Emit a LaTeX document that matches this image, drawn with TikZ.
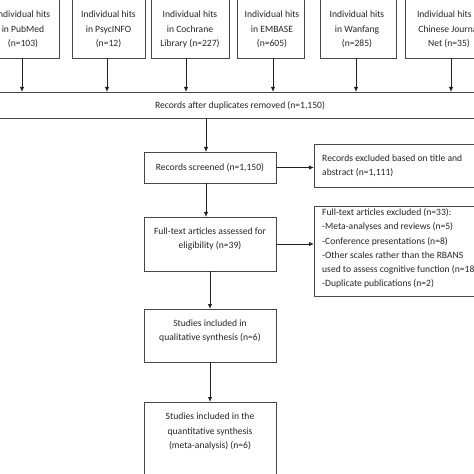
\documentclass[tikz,border=0pt]{standalone}
\usepackage{fontspec}
\setmainfont{Carlito}
\usetikzlibrary{arrows.meta}
\begin{document}
\begin{tikzpicture}[x=1bp,y=-1bp,
  box/.style={draw=black!72,line width=0.9bp,fill=white,inner sep=0pt,outer sep=0pt},
  txt/.style={font=\fontsize{9.6bp}{14.2bp}\selectfont,text=black!85,align=center,inner sep=0pt},
  ltxt/.style={txt,align=left,anchor=west},
  arr/.style={draw=black!88,line width=1bp,-{Latex[length=5bp,width=4.5bp]}}]
\useasboundingbox (0,0) rectangle (474,474);
\clip (0,0) rectangle (474,474);
\fill[white] (0,0) rectangle (474,474);
% top boxes
\node[box,minimum width=72bp,minimum height=60bp] (b1) at (23,28) {};
\node[box,minimum width=73bp,minimum height=60bp] (b2) at (108.5,28) {};
\node[box,minimum width=78bp,minimum height=60bp] (b3) at (190,28) {};
\node[box,minimum width=67bp,minimum height=60bp] (b4) at (270.5,28) {};
\node[box,minimum width=76bp,minimum height=60bp] (b5) at (358,28) {};
\node[box,minimum width=88bp,minimum height=60bp] (b6) at (449,28) {};
\node[txt] (t1) at (23,29.5) {Individual hits\\in PubMed\\(n=103)};
\node[txt] (t2) at (108.5,29.5) {Individual hits\\in PsycINFO\\(n=12)};
\node[txt] (t3) at (190,29.5) {Individual hits\\in Cochrane\\Library (n=227)};
\node[txt] (t4) at (272,29.5) {Individual hits\\in EMBASE\\(n=605)};
\node[txt] (t5) at (357,29.5) {Individual hits\\in Wanfang\\(n=285)};
\node[txt] (t6) at (449,29.5) {Individual hits in\\Chinese Journal\\Net (n=35)};
% records
\node[box,minimum width=500bp,minimum height=26bp] (rec) at (240,105) {};
\node[txt] (trec) at (240,106) {Records after duplicates removed (n=1,150)};
\node[box,minimum width=132bp,minimum height=31bp] (screen) at (210,167.5) {};
\node[txt] (tscreen) at (210,167.5) {Records screened (n=1,150)};
\node[box,minimum width=180bp,minimum height=43bp] (ex1) at (404,165.5) {};
\node[ltxt] (tex1) at (322,166) {Records excluded based on title and\\abstract (n=1,111)};
\node[box,minimum width=132bp,minimum height=54bp] (full) at (210,244) {};
\node[txt] (tfull) at (210,239) {Full-text articles assessed for\\eligibility (n=39)};
\node[box,minimum width=180bp,minimum height=90bp] (ex2) at (404,251) {};
\node[ltxt] (tex2) at (322,248.5) {Full-text articles excluded (n=33):\\-Meta-analyses and reviews (n=5)\\-Conference presentations (n=8)\\-Other scales rather than the RBANS\\used to assess cognitive function (n=18)\\-Duplicate publications (n=2)};
\node[box,minimum width=132bp,minimum height=53bp] (qual) at (210,335.5) {};
\node[txt] (tqual) at (210,331) {Studies included in\\qualitative synthesis (n=6)};
\node[box,minimum width=132bp,minimum height=80bp] (quant) at (210,442) {};
\node[txt] (tquant) at (210,431.5) {Studies included in the\\quantitative synthesis\\(meta-analysis) (n=6)};
% arrows
\draw[arr] ([xshift=-1bp]b1.south) -- ([xshift=-1bp]b1.south |- rec.north);
\draw[arr] ([xshift=-1.5bp]b2.south) -- ([xshift=-1.5bp]b2.south |- rec.north);
\draw[arr] ([xshift=-4bp]b3.south) -- ([xshift=-4bp]b3.south |- rec.north);
\draw[arr] ([xshift=2.5bp]b4.south) -- ([xshift=2.5bp]b4.south |- rec.north);
\draw[arr] ([xshift=-2bp]b5.south) -- ([xshift=-2bp]b5.south |- rec.north);
\draw[arr] ([xshift=2bp]b6.south) -- ([xshift=2bp]b6.south |- rec.north);
\draw[arr] ([xshift=-4bp]screen.north |- rec.south) -- ([xshift=-4bp]screen.north);
\draw[arr] ([xshift=-4bp]screen.south) -- ([xshift=-4bp]full.north);
\draw[arr] (full.south) -- (qual.north);
\draw[arr] (qual.south) -- (quant.north);
\draw[arr] (screen.east) -- (ex1.west |- screen.east);
\draw[arr] (full.east) -- (ex2.west |- full.east);
\end{tikzpicture}
\end{document}
